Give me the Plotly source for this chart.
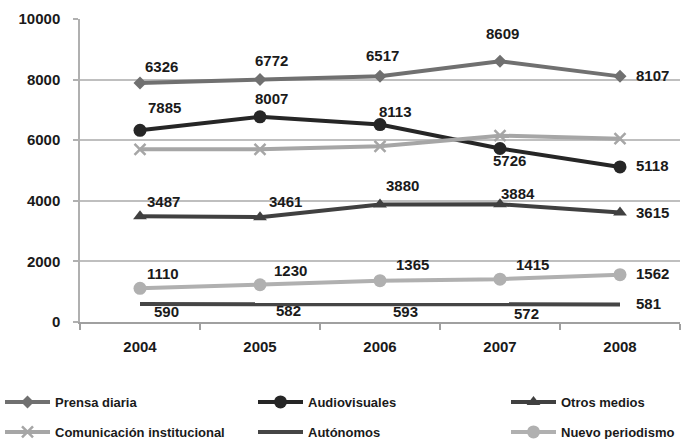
import plotly.graph_objects as go

years = ["2004", "2005", "2006", "2007", "2008"]

prensa = [7885, 8007, 8113, 8609, 8107]
audiovisuales = [6326, 6772, 6517, 5726, 5118]
otros = [3487, 3461, 3880, 3884, 3615]
comunicacion = [5700, 5700, 5800, 6150, 6050]
autonomos = [590, 582, 593, 572, 581]
nuevo = [1110, 1230, 1365, 1415, 1562]

# text labels as printed in the original chart
prensa_lbl = ["6326", "6772", "6517", "8609", "8107"]
audio_lbl = ["7885", "8007", "8113", "5726", "5118"]
otros_lbl = ["3487", "3461", "3880", "3884", "3615"]
autonomos_lbl = ["590", "582", "593", "572", "581"]
nuevo_lbl = ["1110", "1230", "1365", "1415", "1562"]

names = ["Prensa diaria", "Audiovisuales", "Otros medios",
         "Comunicación institucional", "Autónomos", "Nuevo periodismo"]

FONT = "Liberation Sans, Arial, sans-serif"

styles = {
    "Prensa diaria": dict(color="#707070", width=4, symbol="diamond", size=10),
    "Audiovisuales": dict(color="#262626", width=4, symbol="circle", size=13),
    "Otros medios": dict(color="#404040", width=4, symbol="triangle-up", size=12),
    "Comunicación institucional": dict(color="#a6a6a6", width=4, symbol="x-thin", size=11),
    "Autónomos": dict(color="#454545", width=4, symbol=None, size=0),
    "Nuevo periodismo": dict(color="#b0b0b0", width=4, symbol="circle", size=13),
}
series = {
    "Prensa diaria": prensa,
    "Audiovisuales": audiovisuales,
    "Otros medios": otros,
    "Comunicación institucional": comunicacion,
    "Autónomos": autonomos,
    "Nuevo periodismo": nuevo,
}

legend_pos = {
    "Prensa diaria": (-1, 402),
    "Audiovisuales": (253, 402),
    "Otros medios": (506, 402),
    "Comunicación institucional": (-1, 432),
    "Autónomos": (253, 432),
    "Nuevo periodismo": (506, 432),
}

W, H = 689, 439
fig = go.Figure()
layout_legends = {}
for i, name in enumerate(names):
    st = styles[name]
    lg = "legend" if i == 0 else f"legend{i+1}"
    mode = "lines+markers" if st["symbol"] else "lines"
    marker = dict(symbol=st["symbol"], size=st["size"], color=st["color"],
                  line=dict(color=st["color"], width=2.5 if st["symbol"] == "x-thin" else 0)) if st["symbol"] else None
    fig.add_trace(go.Scatter(
        x=years, y=series[name], name=name, mode=mode,
        line=dict(color=st["color"], width=st["width"]),
        marker=marker, legend=lg,
    ))
    px, py = legend_pos[name]
    layout_legends[lg] = dict(
        xref="container", yref="container",
        x=max(px, 0) / W, y=1 - py / H, xanchor="left", yanchor="middle",
        orientation="h", itemwidth=45,
        font=dict(family=FONT, size=13, color="#1a1a1a", weight="bold"),
        bgcolor="rgba(0,0,0,0)", borderwidth=0,
    )

offsets = {
    "Prensa diaria": [(21, 17, "center"), (11, 19, "center"), (2, 21, "center"), (2, 28, "center"), (14, 1, "left")],
    "Audiovisuales": [(24, 23, "center"), (11, 18, "center"), (15, 13, "center"), (9, -12, "center"), (14, 1, "left")],
    "Otros medios": [(23, 15, "center"), (25, 16, "center"), (22, 19, "center"), (18, 11, "center"), (14, 0, "left")],
    "Autónomos": [(26, -7, "center"), (28, -6, "center"), (25, -7, "center"), (26, -9, "center"), (14, 1, "left")],
    "Nuevo periodismo": [(23, 15, "center"), (30, 14, "center"), (32, 16, "center"), (32, 15, "center"), (14, 1, "left")],
}
labels = {
    "Prensa diaria": prensa_lbl,
    "Audiovisuales": audio_lbl,
    "Otros medios": otros_lbl,
    "Autónomos": autonomos_lbl,
    "Nuevo periodismo": nuevo_lbl,
}
annotations = []
for name, lbls in labels.items():
    vals = series[name]
    for j, yr in enumerate(years):
        dx, dy, xa = offsets[name][j]
        annotations.append(dict(
            x=j, y=vals[j], xref="x", yref="y", text="<b>" + lbls[j] + "</b>", showarrow=False,
            xshift=dx, yshift=dy, xanchor=xa, yanchor="middle",
            font=dict(family=FONT, size=15, color="#1a1a1a"),
        ))

fig.update_layout(
    width=W, height=H,
    margin=dict(l=80, r=9, t=19, b=117),
    paper_bgcolor="white", plot_bgcolor="white",
    showlegend=True,
    annotations=annotations,
    **layout_legends,
)
fig.update_xaxes(
    type="category", range=[-0.5, 4.5],
    showline=True, linecolor="#a0a0a0", linewidth=1.5,
    ticks="outside", tickson="boundaries", ticklen=6, tickcolor="#a0a0a0", tickwidth=1.5,
    showgrid=False, ticklabelstandoff=10,
    tickfont=dict(family=FONT, size=15, color="#1a1a1a", weight="bold"),
)
fig.update_yaxes(
    range=[0, 10000], tickvals=[0, 2000, 4000, 6000, 8000, 10000],
    ticktext=["0", "2000", "4000", "6000", "8000", "10000"],
    showline=True, linecolor="#b0b0b0", linewidth=1.5,
    ticks="outside", ticklen=5, tickcolor="#b0b0b0", tickwidth=1.5,
    showgrid=False, zeroline=False, ticklabelstandoff=10,
    minor=dict(tickvals=[2000, 4000, 6000, 8000], showgrid=True, gridcolor="#bfbfbf", gridwidth=1.5, ticks=""),
    tickfont=dict(family=FONT, size=15, color="#1a1a1a", weight="bold"),
)

fig.write_html("out.html", config={"displayModeBar": False},
               post_script="document.body.style.margin='0';")
